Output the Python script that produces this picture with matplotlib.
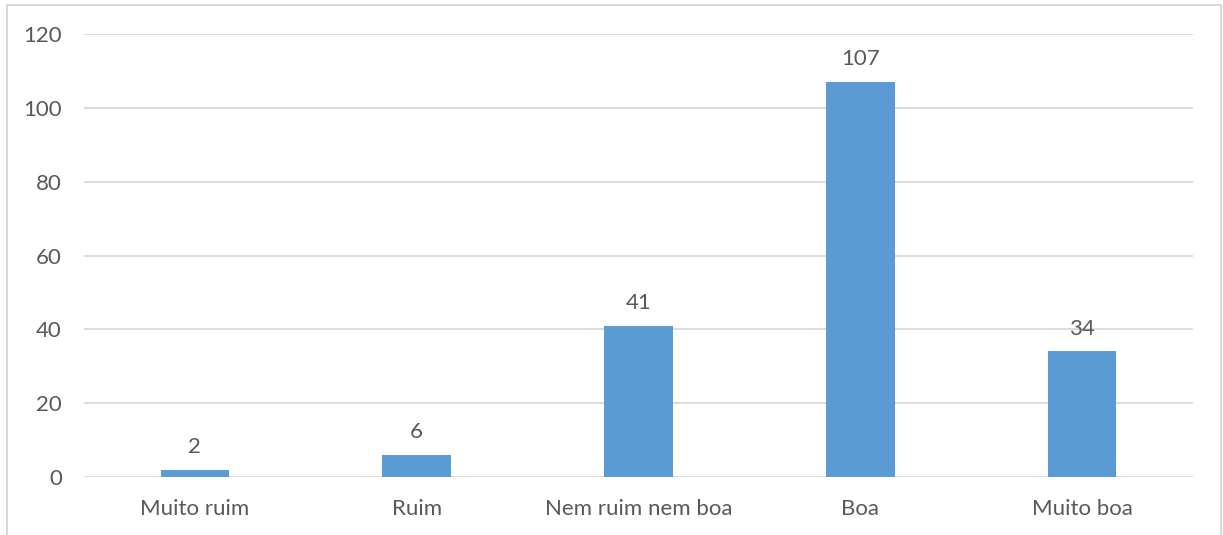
import matplotlib.pyplot as plt
from matplotlib.patches import Rectangle

categories = ['Muito ruim', 'Ruim', 'Nem ruim nem boa', 'Boa', 'Muito boa']
values = [2, 6, 41, 107, 34]
yticks = [0, 20, 40, 60, 80, 100, 120]

text_color = '#595959'
grid_color = '#D9D9D9'
bar_color = '#5B9BD5'

plt.rcParams['font.family'] = ['Lato', 'DejaVu Sans']

fig = plt.figure(figsize=(12.23, 5.35), dpi=100)
ax = fig.add_axes([84/1223, 1 - 477/535, (1193-84)/1223, (477-34)/535])

x = range(len(categories))
bars = ax.bar(x, values, width=0.31, color=bar_color, zorder=3)

for b, v in zip(bars, values):
	ax.annotate(str(v), (b.get_x() + b.get_width()/2, v), xytext=(0, 9),
		textcoords='offset points', ha='center', va='bottom',
		fontsize=16, color=text_color)

ax.set_xlim(-0.5, len(categories) - 0.5)
ax.set_ylim(0, 120)
ax.set_yticks(yticks)
ax.set_xticks(list(x))
ax.set_xticklabels(categories)
ax.yaxis.grid(True, color=grid_color, linewidth=1.3, zorder=0)
ax.set_axisbelow(True)
for s in ax.spines.values():
	s.set_visible(False)
ax.tick_params(axis='both', length=0, labelsize=16, labelcolor=text_color)
ax.tick_params(axis='x', pad=16)
ax.tick_params(axis='y', pad=16)

# outer chart border (bottom edge is cut off in the original)
fig.add_artist(Rectangle((7/1223, -0.1), (1221-7)/1223, 1.1 - 5/535,
	transform=fig.transFigure, fill=False, edgecolor=grid_color, linewidth=1.5))

fig.savefig('out.png', dpi=100)
